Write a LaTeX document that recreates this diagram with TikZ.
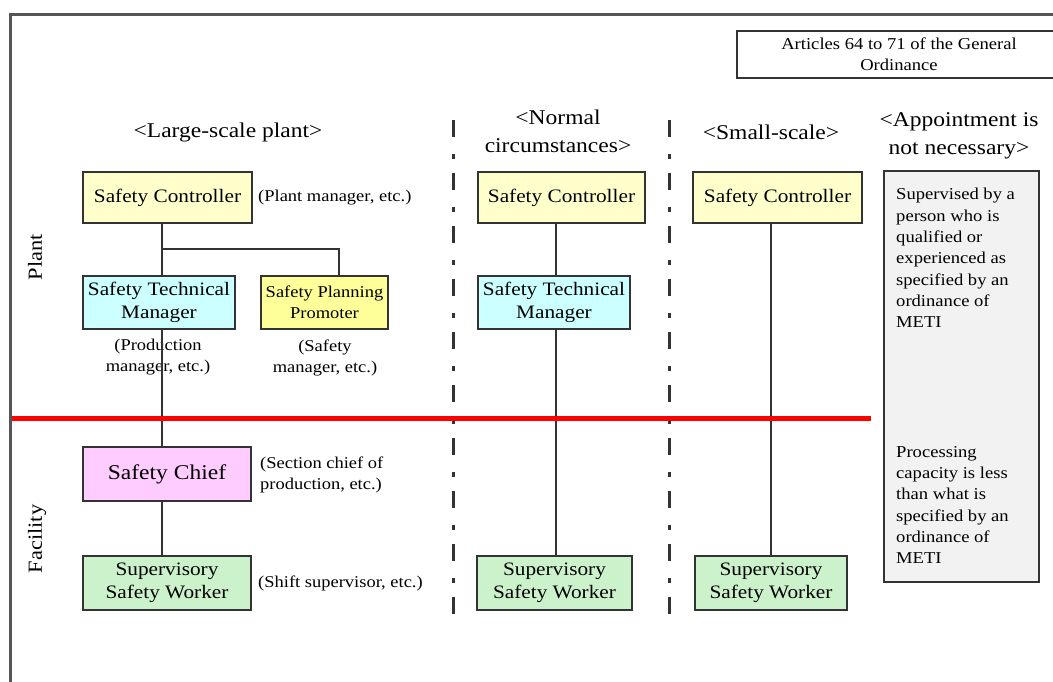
\documentclass[tikz,border=0pt]{standalone}
\usepackage{fontspec}
\setmainfont{Liberation Serif}[FakeStretch=1.12]
\usetikzlibrary{calc}

\definecolor{ink}{HTML}{333333}
\definecolor{frameline}{HTML}{555555}
\definecolor{ctrlfill}{HTML}{FFFFCC}
\definecolor{techfill}{HTML}{CCFFFF}
\definecolor{planfill}{HTML}{FFFF99}
\definecolor{chieffill}{HTML}{FFCCFF}
\definecolor{workerfill}{HTML}{CCF2CC}
\definecolor{notefill}{HTML}{F2F2F2}
\definecolor{boundary}{HTML}{FF0000}

\newcommand\boxfont{\fontsize{19}{23}\selectfont}
\newcommand\bigboxfont{\fontsize{21}{25}\selectfont}
\newcommand\smallboxfont{\fontsize{16.5}{21.5}\selectfont}
\newcommand\labelfont{\fontsize{16.5}{21}\selectfont}
\newcommand\headfont{\fontsize{21}{28}\selectfont}
\newcommand\notefont{\fontsize{16.6}{21.3}\selectfont}
\newcommand\sidefont{\fontsize{20}{24}\selectfont}

\begin{document}
\begin{tikzpicture}[x=1pt,y=-1pt,
  rolebox/.style={draw=ink, line width=2.6pt, inner sep=0pt, align=center, font=\boxfont},
  conn/.style={draw=ink, line width=2.6pt},
  divider/.style={draw=ink, line width=3pt, dash pattern=on 17pt off 17pt on 5pt off 14pt},
  remark/.style={inner sep=0pt, font=\labelfont},
  heading/.style={inner sep=0pt, align=center, font=\headfont},
  note/.style={inner sep=0pt, align=left, anchor=west, font=\notefont},
  side/.style={inner sep=0pt, rotate=90, font=\sidefont}]

\useasboundingbox (0,0) rectangle (1053,681);

% outer frame (open to the right and bottom)
\draw[frameline, line width=3pt] (10,700) |- (1080,14);

% reference box
\node[draw=ink, line width=2.6pt, fill=white, minimum width=324pt, minimum height=47pt,
      inner sep=0pt, align=center, font=\notefont, text depth=0pt] (articles) at (899,54.5)
      {Articles 64 to 71 of the General\\Ordinance};

% column headings
\node[heading] (hlarge)  at (228,132) {<Large-scale plant>};
\node[heading] (hnormal) at (558,131) {<Normal\\circumstances>};
\node[heading] (hsmall)  at (771,132) {<Small-scale>};
\node[heading] (hnone)   at (959,136) {<Appointment is\\not necessary>};

% row labels
\node[side] (plant)    at (35,257) {Plant};
\node[side] (facility) at (37,539) {Facility};

% column dividers
\draw[divider] (453,120) -- (453,618);
\draw[divider] (669,120) -- (669,618);

% large-scale plant column
\node[rolebox, fill=ctrlfill, minimum width=169pt, minimum height=51pt] (sc1) at (167.5,197.5) {Safety Controller};
\node[rolebox, fill=techfill, minimum width=152pt, minimum height=53pt] (stm1) at (159,302.5) {Safety Technical\\Manager};
\node[rolebox, fill=planfill, minimum width=127pt, minimum height=53pt, font=\smallboxfont] (spp) at (324.5,302.5) {Safety Planning\\Promoter};
\node[rolebox, fill=chieffill, minimum width=168pt, minimum height=54pt, font=\bigboxfont] (chief) at (167,474) {Safety Chief};
\node[rolebox, fill=workerfill, minimum width=168pt, minimum height=54pt] (ssw1) at (167,583) {Supervisory\\Safety Worker};

\node[remark, anchor=west] (rplant) at (258,198) {(Plant manager, etc.)};
\node[remark, align=center] (rprod) at (158,357.5) {(Production\\manager, etc.)};
\node[remark, align=center] (rsafe) at (325,357.5) {(Safety\\manager, etc.)};
\node[remark, anchor=west, align=left] (rsect) at (260,474.5) {(Section chief of\\production, etc.)};
\node[remark, anchor=west] (rshift) at (258,583) {(Shift supervisor, etc.)};

% normal circumstances column
\node[rolebox, fill=ctrlfill, minimum width=167pt, minimum height=51pt] (sc2) at (561.5,197.5) {Safety Controller};
\node[rolebox, fill=techfill, minimum width=152pt, minimum height=53pt] (stm2) at (554,302.5) {Safety Technical\\Manager};
\node[rolebox, fill=workerfill, minimum width=155pt, minimum height=54pt] (ssw2) at (554.5,583) {Supervisory\\Safety Worker};

% small-scale column
\node[rolebox, fill=ctrlfill, minimum width=169pt, minimum height=51pt] (sc3) at (777.5,197.5) {Safety Controller};
\node[rolebox, fill=workerfill, minimum width=152pt, minimum height=54pt] (ssw3) at (771,583) {Supervisory\\Safety Worker};

% appointment not necessary
\node[draw=ink, line width=2.6pt, fill=notefill, minimum width=155pt, minimum height=411pt, inner sep=0pt] (exempt) at (961.5,376.5) {};
\node[note] (exempt1) at (896,258) {Supervised by a\\person who is\\qualified or\\experienced as\\specified by an\\ordinance of\\METI};
\node[note] (exempt2) at (896,505) {Processing\\capacity is less\\than what is\\specified by an\\ordinance of\\METI};

% reporting lines
\coordinate (trunk1) at (162,0);
\coordinate (fork)   at (162,249);
\coordinate (planx)  at (339,0);
\coordinate (trunk2) at (556,0);
\coordinate (trunk3) at (771,0);

\draw[conn] (sc1.south -| trunk1) -- (stm1.north -| trunk1);
\draw[conn] (fork) -| (spp.north -| planx);
\draw[conn] (stm1.south -| trunk1) -- (chief.north -| trunk1);
\draw[conn] (chief.south -| trunk1) -- (ssw1.north -| trunk1);
\draw[conn] (sc2.south -| trunk2) -- (stm2.north -| trunk2);
\draw[conn] (stm2.south -| trunk2) -- (ssw2.north -| trunk2);
\draw[conn] (sc3.south -| trunk3) -- (ssw3.north -| trunk3);

% plant / facility boundary
\draw[boundary, line width=5pt] (12,418) -- (871,418);

\end{tikzpicture}
\end{document}
